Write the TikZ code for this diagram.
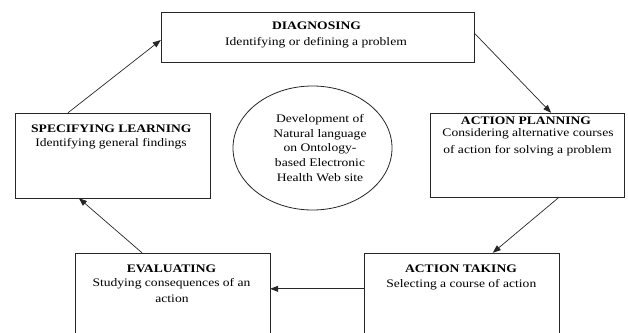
\documentclass[tikz,border=0pt]{standalone}
\usepackage{fontspec}
\setmainfont[FakeStretch=1.18]{Liberation Serif}
\usetikzlibrary{arrows.meta,calc}
\begin{document}
\begin{tikzpicture}[x=1pt,y=-1pt,
  stage/.style={draw=black!85,line width=0.8pt,fill=white},
  ttl/.style={anchor=base,inner sep=0pt,font=\fontsize{11.5}{14}\selectfont\bfseries},
  txt/.style={anchor=base,inner sep=0pt,font=\fontsize{11.5}{14}\selectfont},
  flow/.style={draw=black!85,line width=0.7pt,-{Triangle[length=8pt,width=6pt]}}]
\useasboundingbox (0,0) rectangle (628,332);
\clip (0,0) rectangle (628,332);

% stage boxes
\draw[stage] (161,12) rectangle (474,62);
\node[inner sep=0pt,minimum width=313pt,minimum height=50pt] (diag) at (317.5,37) {};
\draw[stage] (15,113) rectangle (210,198);
\node[inner sep=0pt,minimum width=195pt,minimum height=85pt] (spec) at (112.5,155.5) {};
\draw[stage] (430,113) rectangle (624,197);
\node[inner sep=0pt,minimum width=194pt,minimum height=84pt] (plan) at (527,155) {};
\draw[stage] (75,253) rectangle (270,345);
\node[inner sep=0pt,minimum width=195pt,minimum height=92pt] (eval) at (172.5,299) {};
\draw[stage] (364,253) rectangle (559,345);
\node[inner sep=0pt,minimum width=195pt,minimum height=92pt] (take) at (461.5,299) {};

% central ellipse
\draw[draw=black!85,line width=0.8pt] (312.5,148) ellipse [x radius=79.5pt,y radius=62pt];
\node[inner sep=0pt,minimum width=159pt,minimum height=124pt] (core) at (312.5,148) {};

% texts
\node[ttl] (diag-t) at (316.5,29.3) {DIAGNOSING};
\node[txt] (diag-s) at (316,45.7) {Identifying or defining a problem};

\node[ttl] (spec-t) at (111.3,132.3) {SPECIFYING LEARNING};
\node[txt] (spec-s) at (111,146.7) {Identifying general findings};

\node[ttl] (plan-t) at (526,124) {ACTION PLANNING};
\node[txt] (plan-s1) at (528,136.7) {Considering alternative courses};
\node[txt] (plan-s2) at (527.5,153.3) {of action for solving a problem};

\node[ttl] (eval-t) at (171.5,272.7) {EVALUATING};
\node[txt] (eval-s1) at (171.5,286) {Studying consequences of an};
\node[txt] (eval-s2) at (172,302.7) {action};

\node[ttl] (take-t) at (461,272.7) {ACTION TAKING};
\node[txt] (take-s) at (461.3,287.7) {Selecting a course of action};

\node[txt] (core-1) at (320,122.3) {Development of};
\node[txt] (core-2) at (320,137) {Natural language};
\node[txt] (core-3) at (320,151.7) {on Ontology-};
\node[txt] (core-4) at (320,166.3) {based Electronic};
\node[txt] (core-5) at (320,181) {Health Web site};

% cycle arrows
\draw[flow] ($(spec.north west)!0.272!(spec.north east)$) -- ($(diag.north west)!0.56!(diag.south west)$);
\draw[flow] ($(diag.north east)!0.42!(diag.south east)$) -- ($(plan.north west)!0.624!(plan.north east)$);
\draw[flow] ($(plan.south west)!0.665!(plan.south east)$) -- ($(take.north west)!0.66!(take.north east)$);
\draw[flow] ($(take.north west)+(0,36)$) -- ($(eval.north east)+(0,36)$);
\draw[flow] ($(eval.north west)!0.344!(eval.north east)$) -- ($(spec.south west)!0.328!(spec.south east)$);
\end{tikzpicture}
\end{document}
